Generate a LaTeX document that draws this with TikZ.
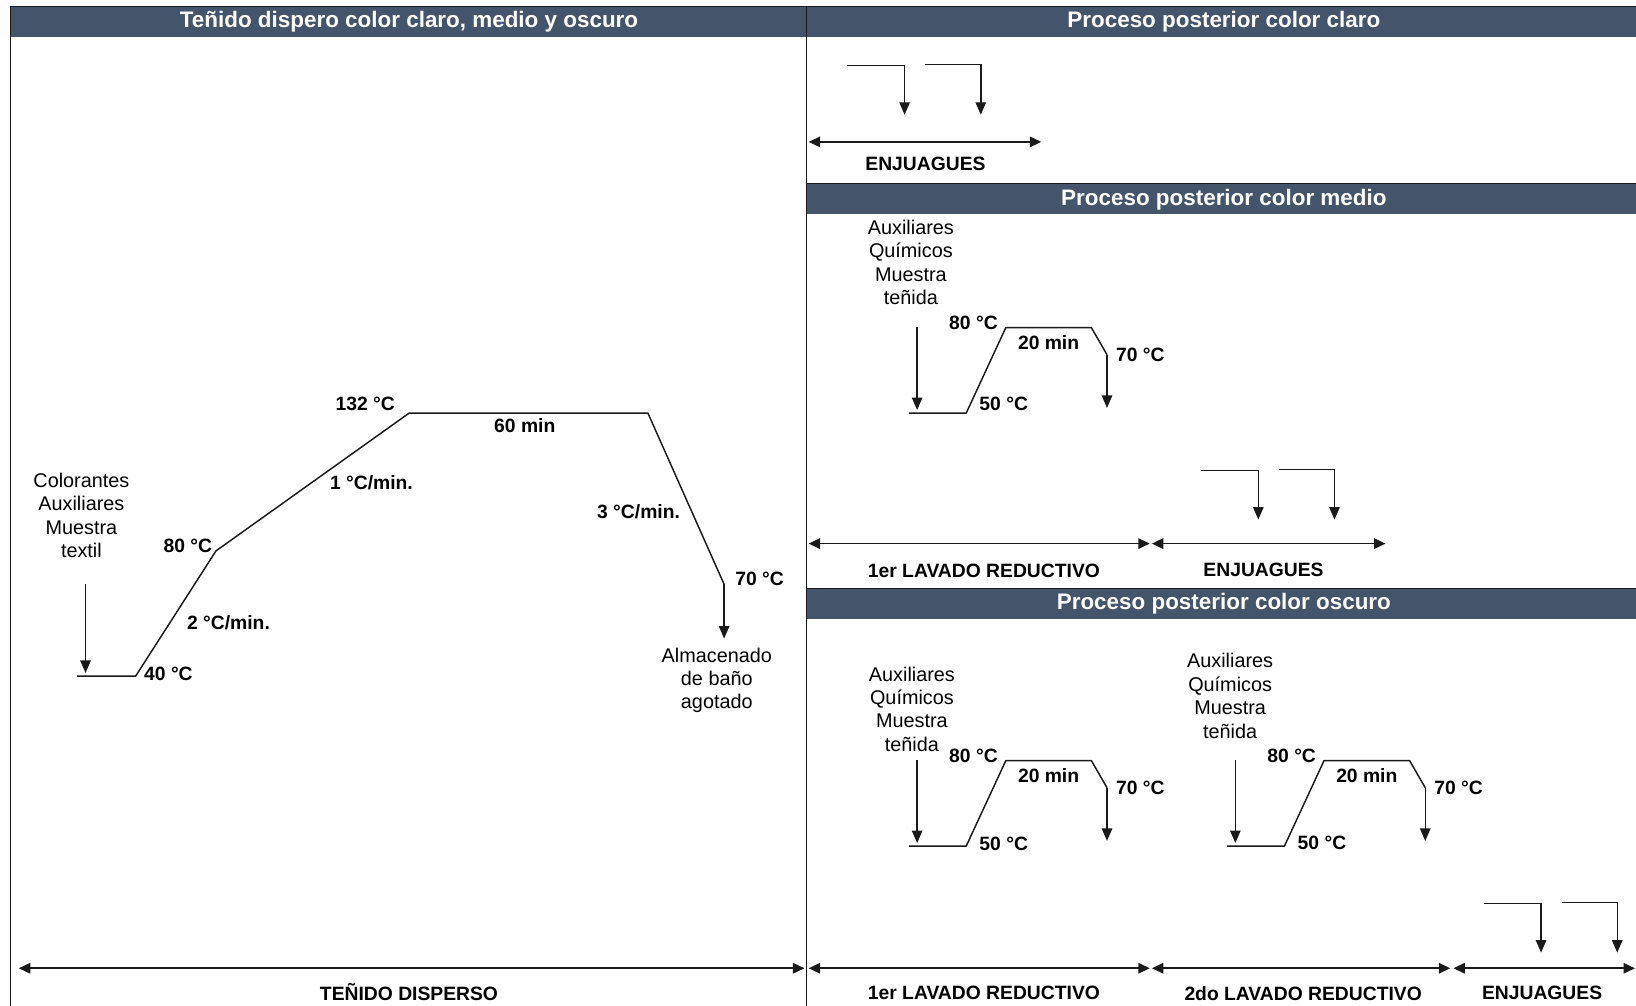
\documentclass[tikz,border=0pt]{standalone}
\usepackage{fontspec}
\setmainfont{Liberation Sans}
\usetikzlibrary{arrows.meta}
\definecolor{hdr}{HTML}{44546A}
\definecolor{ln}{HTML}{1A1A1A}
\tikzset{
  curve/.style={draw=ln, line width=1.4pt, line join=round},
  downarrow/.style={draw=ln, line width=1.4pt, -{Triangle[length=12pt,width=10pt]}},
  span/.style={draw=ln, line width=1.7pt, {Triangle[length=11pt,width=10pt]}-{Triangle[length=11pt,width=10pt]}},
  frameline/.style={draw=ln, line width=1.3pt},
  hdrbar/.style={fill=hdr, draw=none},
  hdrtext/.style={text=white, font=\fontsize{21.5}{24}\selectfont\bfseries, inner sep=0pt},
  lbl/.style={font=\fontsize{18.5}{22}\selectfont\bfseries, inner sep=0pt},
  info/.style={font=\fontsize{19}{22.4}\selectfont, align=center, inner sep=0pt},
}
\newcommand\reductive[6]{%
  % #1 prefix, #2 x of inlet arrow, #3 base y, #4 text x, #5 text y, #6 y offset of 50 label
  \begin{scope}[shift={(#2,#3)}]
    \coordinate (#1ia) at (0,-83);
    \coordinate (#1ib) at (0,-3);
    \coordinate (#1b0) at (-8,0);
    \coordinate (#1b1) at (47,0);
    \coordinate (#1t0) at (85,-82);
    \coordinate (#1t1) at (167,-82);
    \coordinate (#1d0) at (182,-56);
    \coordinate (#1d1) at (182,-5);
    \draw[downarrow] (#1ia) -- (#1ib);
    \draw[curve] (#1b0) -- (#1b1) -- (#1t0) -- (#1t1) -- (#1d0);
    \draw[downarrow] (#1d0) -- (#1d1);
    \node[lbl] (#1l80) at (54,-87) {80 °C};
    \node[lbl] (#1l20) at (126,-68) {20 min};
    \node[lbl] (#1l70) at (214,-56) {70 °C};
    \node[lbl] (#1l50) at (83,#6) {50 °C};
  \end{scope}
  \node[info] (#1txt) at (#4,#5) {Auxiliares\\Químicos\\Muestra\\teñida};
}
\newcommand\rinses[3]{%
  % #1 prefix, #2 x start, #3 y start
  \begin{scope}[shift={(#2,#3)}]
    \coordinate (#1a0) at (0,0);
    \coordinate (#1a1) at (55,0);
    \coordinate (#1a2) at (55,47);
    \coordinate (#1b0) at (75,-1);
    \coordinate (#1b1) at (128,-1);
    \coordinate (#1b2) at (128,47);
    \draw[downarrow] (#1a0) -- (#1a1) -- (#1a2);
    \draw[downarrow] (#1b0) -- (#1b1) -- (#1b2);
  \end{scope}
}
\begin{document}
\begin{tikzpicture}[x=1pt,y=-1pt]
\useasboundingbox (0,0) rectangle (1568,964);
\fill[white] (0,0) rectangle (1568,964);

% headers
\fill[hdrbar] (10,6) rectangle (773,35);
\fill[hdrbar] (773,6) rectangle (1568,35);
\fill[hdrbar] (773,176) rectangle (1568,205);
\fill[hdrbar] (773,564) rectangle (1568,593);
\draw[frameline] (10,6) -- (1568,6);
\draw[frameline] (773,176) -- (1568,176);
\draw[frameline] (773,564) -- (1568,564);
\node[hdrtext] (h1) at (392,21) {Teñido dispero color claro, medio y oscuro};
\node[hdrtext] (h2) at (1173,21) {Proceso posterior color claro};
\node[hdrtext] (h3) at (1173,191) {Proceso posterior color medio};
\node[hdrtext] (h4) at (1173,579) {Proceso posterior color oscuro};

% frame
\draw[frameline] (10,6) -- (10,964);
\draw[frameline] (773,6) -- (773,964);

% ---------- left: dyeing curve ----------
\node[info] (inlet) at (78,494) {Colorantes\\Auxiliares\\Muestra\\textil};
\coordinate (ia) at (82,560);
\coordinate (ib) at (82,645);
\draw[downarrow] (ia) -- (ib);
\coordinate (s0) at (74,648);
\coordinate (s1) at (130,648);
\coordinate (s2) at (207,528);
\coordinate (s3) at (392,396);
\coordinate (s4) at (621,396);
\coordinate (s5) at (694,560);
\coordinate (s6) at (694,612);
\draw[curve] (s0) -- (s1) -- (s2) -- (s3) -- (s4) -- (s5);
\draw[downarrow] (s5) -- (s6);
\node[lbl, anchor=west] (t40) at (138,646) {40 °C};
\node[lbl] (r2) at (219,597) {2 °C/min.};
\node[lbl] (t80) at (180,523) {80 °C};
\node[lbl] (r1) at (356,463) {1 °C/min.};
\node[lbl] (t132) at (350,387) {132 °C};
\node[lbl] (m60) at (503,408) {60 min};
\node[lbl] (r3) at (612,490) {3 °C/min.};
\node[lbl] (t70) at (728,555) {70 °C};
\node[info] (store) at (687,652) {Almacenado\\de baño\\agotado};

\coordinate (dA) at (18,928);
\coordinate (dB) at (771,928);
\draw[span] (dA) -- (dB);
\node[lbl] (ltd) at (392,951) {TEÑIDO DISPERSO};

% ---------- right: claro ----------
\rinses{c}{812}{63}
\coordinate (cA) at (775,136);
\coordinate (cB) at (998,136);
\draw[span] (cA) -- (cB);
\node[lbl] (lce) at (887,157) {ENJUAGUES};

% ---------- right: medio ----------
\reductive{m}{879}{396}{873}{251.5}{-9}
\rinses{mr}{1151}{451}
\coordinate (mA) at (775,521);
\coordinate (mB) at (1102,521);
\coordinate (mC) at (1104,521);
\coordinate (mD) at (1328,521);
\draw[span] (mA) -- (mB);
\draw[span] (mC) -- (mD);
\node[lbl] (lm1) at (943,547) {1er LAVADO REDUCTIVO};
\node[lbl] (lm2) at (1211,546) {ENJUAGUES};

% ---------- right: oscuro ----------
\reductive{o}{879}{811}{874}{679.5}{-2}
\reductive{p}{1184}{811}{1179}{667}{-3}
\rinses{or}{1422}{866}
\coordinate (oA) at (775,928);
\coordinate (oB) at (1102,928);
\coordinate (oC) at (1104,928);
\coordinate (oD) at (1390,928);
\coordinate (oE) at (1393,928);
\coordinate (oF) at (1567,928);
\draw[span] (oA) -- (oB);
\draw[span] (oC) -- (oD);
\draw[span] (oE) -- (oF);
\node[lbl] (lo1) at (943,952) {1er LAVADO REDUCTIVO};
\node[lbl] (lo2) at (1249,952) {2do LAVADO REDUCTIVO};
\node[lbl] (lo3) at (1478,952) {ENJUAGUES};
\end{tikzpicture}
\end{document}
